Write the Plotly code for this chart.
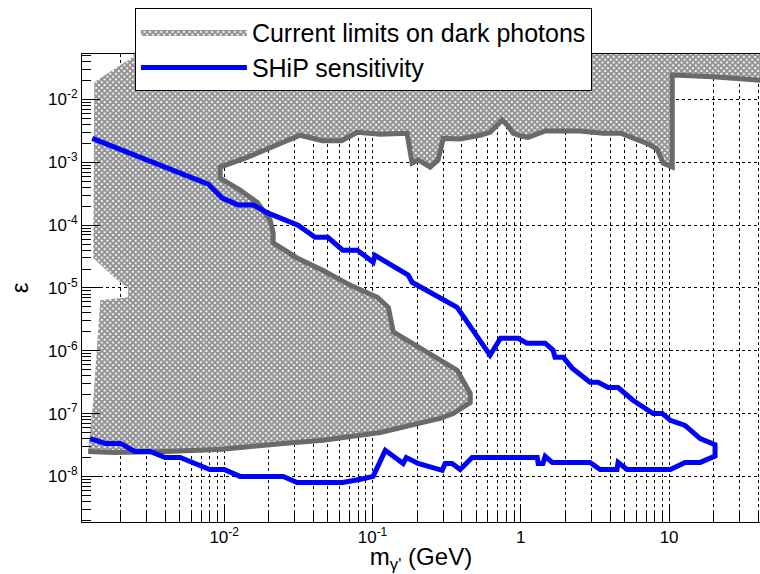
import math
import plotly.graph_objects as go

# ---------------- data ----------------
# SHiP sensitivity contour: mass in GeV, epsilon
ship_mass = [1.29e-3, 7.8e-3, 9.7e-3, 1.24e-2, 1.57e-2, 1.98e-2, 3.15e-2, 4.1e-2, 5.0e-2, 6.3e-2,
             7.9e-2, 0.101, 0.104, 0.174, 0.185, 0.256, 0.372, 0.62, 0.73, 0.96,
             1.10, 1.46, 1.65, 1.70, 1.93, 2.22, 2.93, 3.32, 3.88, 4.53,
             5.7, 7.8, 9.0, 10.2, 12.8, 16.2, 20.4, 20.4, 16.2, 12.8,
             10.2, 5.2, 4.53, 4.45, 3.43, 2.93, 1.63, 1.46, 1.41, 1.31,
             1.29, 0.47, 0.39, 0.344, 0.309, 0.295, 0.203, 0.169, 0.161, 0.122,
             0.101, 8.3e-2, 6.3e-2, 3.1e-2, 2.5e-2, 1.28e-2, 1.0e-2, 8.0e-3, 5.05e-3, 4.0e-3,
             3.17e-3, 2.5e-3, 2.0e-3, 1.58e-3, 1.25e-3]
ship_eps = [2.4e-3, 4.5e-4, 2.7e-4, 2.1e-4, 2.1e-4, 1.55e-4, 1.0e-4, 6.4e-5, 6.4e-5, 4.0e-5,
            4.0e-5, 2.57e-5, 3.3e-5, 1.6e-5, 1.23e-5, 8.2e-6, 4.9e-6, 8.5e-7, 1.58e-6, 1.58e-6,
            1.32e-6, 1.32e-6, 1.02e-6, 7.9e-7, 7.9e-7, 5.3e-7, 3.15e-7, 3.15e-7, 2.6e-7, 2.6e-7,
            1.63e-7, 1.0e-7, 1.0e-7, 7.8e-8, 6.5e-8, 4.0e-8, 3.2e-8, 2.1e-8, 1.67e-8, 1.67e-8,
            1.29e-8, 1.29e-8, 1.67e-8, 1.29e-8, 1.29e-8, 1.67e-8, 1.67e-8, 2.08e-8, 1.61e-8, 1.61e-8,
            2.0e-8, 2.0e-8, 1.29e-8, 1.61e-8, 1.61e-8, 1.25e-8, 1.61e-8, 2.0e-8, 1.61e-8, 2.6e-8,
            1.0e-8, 9.0e-9, 8.0e-9, 8.0e-9, 1.0e-8, 1.0e-8, 1.29e-8, 1.29e-8, 2.0e-8, 2.0e-8,
            2.5e-8, 2.5e-8, 3.35e-8, 3.35e-8, 4.0e-8]

# Current limits: outlined boundary (drawn with the thick grey line)
limit_edge_mass = [60, 30, 19.8, 10.5, 10.5, 9.1, 8.3, 7.1, 5.7, 4.7,
                   3.6, 2.5, 1.46, 1.12, 1.02, 0.89, 0.81, 0.75, 0.62, 0.53,
                   0.39, 0.30, 0.277, 0.245, 0.203, 0.185, 0.171, 0.113, 7.9e-2, 6.2e-2,
                   4.6e-2, 3.25e-2, 2.1e-2, 1.43e-2, 9.4e-3, 9.4e-3, 1.28e-2, 1.67e-2, 2.04e-2, 2.14e-2,
                   2.14e-2, 3.1e-2, 4.65e-2, 7.1e-2, 0.108, 0.128, 0.138, 0.188, 0.273, 0.372,
                   0.456, 0.456, 0.35, 0.286, 0.234, 0.113, 9.2e-2, 4.65e-2, 2.5e-2, 9.7e-3,
                   4.1e-3, 1.8e-3, 1.21e-3]
limit_edge_eps = [1.9e-2, 2.2e-2, 2.3e-2, 2.45e-2, 8.4e-4, 9.7e-4, 1.63e-3, 2.0e-3, 2.5e-3, 2.9e-3,
                  2.9e-3, 3.15e-3, 3.15e-3, 2.5e-3, 2.6e-3, 2.9e-3, 3.9e-3, 4.7e-3, 3.0e-3, 2.7e-3,
                  2.35e-3, 2.4e-3, 1.09e-3, 8.4e-4, 1.09e-3, 9.7e-4, 2.9e-3, 2.8e-3, 3.0e-3, 2.2e-3,
                  2.2e-3, 2.7e-3, 1.75e-3, 1.2e-3, 8.4e-4, 5.6e-4, 3.6e-4, 2.3e-4, 1.2e-4, 7.5e-5,
                  5.2e-5, 3.0e-5, 1.9e-5, 1.1e-5, 7.1e-6, 4.9e-6, 2.0e-6, 1.3e-6, 7.9e-7, 4.9e-7,
                  2.1e-7, 1.5e-7, 1.0e-7, 8.4e-8, 7.5e-8, 5.0e-8, 4.7e-8, 3.75e-8, 3.35e-8, 2.7e-8,
                  2.5e-8, 2.4e-8, 2.5e-8]
# Current limits: remaining (unoutlined) left / top edge of the excluded region
limit_left_mass = [1.31e-3, 1.46e-3, 2.25e-3, 2.25e-3, 2.0e-3, 1.31e-3, 1.33e-3, 2.43e-3, 2.6e-3, 60]
limit_left_eps = [1.6e-7, 6.4e-6, 7.1e-6, 1.03e-5, 1.2e-5, 3.0e-5, 1.9e-2, 4.75e-2, 0.1, 0.1]

x_major = [0.01, 0.1, 1, 10]
x_major_text = ["10<sup>-2</sup>", "10<sup>-1</sup>", "1", "10"]
y_major = [1e-8, 1e-7, 1e-6, 1e-5, 1e-4, 1e-3, 1e-2]
y_major_text = ["10<sup>-8</sup>", "10<sup>-7</sup>", "10<sup>-6</sup>", "10<sup>-5</sup>",
                "10<sup>-4</sup>", "10<sup>-3</sup>", "10<sup>-2</sup>"]
x_range = (1.1e-3, 41.0)
y_range = (1.88e-9, 5.3e-2)

# minor tick positions (2..9 in each decade)
x_minor = [k * 10.0 ** d for d in range(-3, 2) for k in range(2, 10)]
y_minor = [k * 10.0 ** d for d in range(-9, -1) for k in range(2, 10)]

FONT = "Liberation Sans, Arial, sans-serif"
GREY = "#6a6a6a"

fig = go.Figure()

poly_x = limit_edge_mass + limit_left_mass
poly_y = limit_edge_eps + limit_left_eps
fig.add_trace(go.Scatter(
    x=poly_x, y=poly_y, mode="lines", fill="toself",
    fillcolor="rgba(0,0,0,0)",
    fillpattern=dict(shape="x", size=4, solidity=0.75, fgcolor="#222222", bgcolor="white"),
    line=dict(width=0, color=GREY),
    name="Current limits on dark photons", legendgroup="a", hoverinfo="skip"))

fig.add_trace(go.Scatter(
    x=limit_edge_mass, y=limit_edge_eps, mode="lines",
    line=dict(color=GREY, width=5), showlegend=False, hoverinfo="skip"))

fig.add_trace(go.Scatter(
    x=ship_mass, y=ship_eps, mode="lines",
    line=dict(color="#0000ff", width=5),
    name="SHiP sensitivity", legendgroup="b", hoverinfo="skip"))

fig.update_layout(
    width=760, height=574,
    margin=dict(l=82, r=0, t=54, b=52),
    paper_bgcolor="white", plot_bgcolor="white",
    font=dict(family=FONT, color="black", size=16),
    showlegend=True,
    legend=dict(x=0.078, y=1.098, xanchor="left", yanchor="top",
                bgcolor="white", bordercolor="black", borderwidth=1,
                font=dict(size=25, family=FONT), itemwidth=106,
                tracegroupgap=0),
)

fig.update_xaxes(
    type="log", range=[math.log10(x_range[0]), math.log10(x_range[1])],
    tickmode="array", tickvals=x_major, ticktext=x_major_text,
    ticks="inside", ticklen=16, tickcolor="black",
    showgrid=True, gridcolor="black", griddash="3px,3px", gridwidth=1,
    minor=dict(tickmode="array", tickvals=x_minor, ticks="inside", ticklen=9,
               tickcolor="black", showgrid=True, gridcolor="black",
               griddash="3px,3px", gridwidth=1),
    showline=True, linecolor="black", linewidth=1, mirror=True,
    zeroline=False,
    tickfont=dict(size=17, family=FONT),
    title=dict(text="m<sub>γ'</sub> (GeV)", font=dict(size=24, family=FONT), standoff=4),
)
fig.update_yaxes(
    type="log", range=[math.log10(y_range[0]), math.log10(y_range[1])],
    tickmode="array", tickvals=y_major, ticktext=y_major_text,
    ticks="inside", ticklen=18, tickcolor="black",
    showgrid=True, gridcolor="black", griddash="3px,3px", gridwidth=1,
    minor=dict(tickmode="array", tickvals=y_minor, ticks="inside", ticklen=9,
               tickcolor="black", showgrid=False),
    showline=True, linecolor="black", linewidth=1, mirror=False,
    zeroline=False,
    tickfont=dict(size=17, family=FONT),
    title=dict(text="ε", font=dict(size=24, family=FONT), standoff=12),
)

fig.write_html("out.html")
